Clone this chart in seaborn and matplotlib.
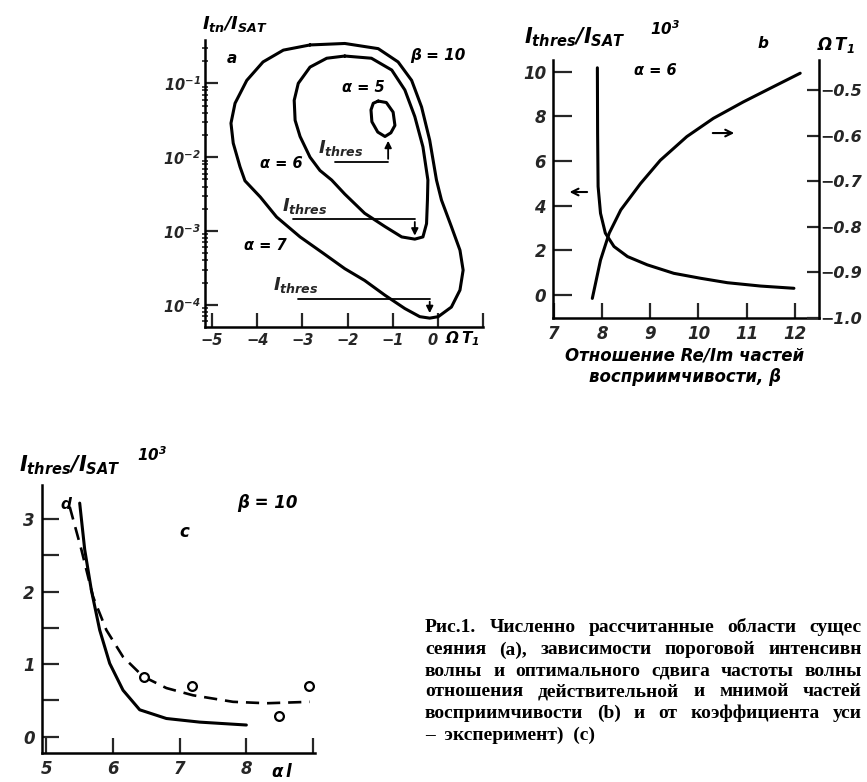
import numpy as np
import matplotlib
matplotlib.use("Agg")
import matplotlib.pyplot as plt
import seaborn as sns

# panel a: loops in (Omega*T1, log10 I/Isat)
a7_x = [-2.83, -2.06, -1.32, -0.88, -0.58, -0.36, -0.18, -0.03, 0.08, 0.30, 0.49, 0.56,
        0.49, 0.30, 0.01, -0.18, -0.40, -0.73, -1.17, -1.62, -2.06, -2.54, -3.05, -3.57,
        -3.93, -4.27, -4.38, -4.53, -4.58, -4.49, -4.23, -3.87, -3.42, -2.83]
a7_log = [-0.48, -0.46, -0.53, -0.71, -0.96, -1.32, -1.77, -2.31, -2.58, -2.94, -3.26, -3.53,
          -3.80, -4.03, -4.16, -4.18, -4.16, -4.05, -3.87, -3.67, -3.51, -3.30, -3.08, -2.81,
          -2.54, -2.32, -2.13, -1.81, -1.54, -1.27, -0.96, -0.71, -0.55, -0.48]
a6_x = [-2.06, -1.47, -1.02, -0.73, -0.51, -0.33, -0.22, -0.23, -0.25, -0.33, -0.51, -0.80,
        -1.17, -1.62, -2.06, -2.35, -2.61, -2.83, -3.05, -3.16, -3.18, -3.09, -2.83, -2.46, -2.06]
a6_log = [-0.63, -0.66, -0.82, -1.09, -1.45, -1.86, -2.31, -2.58, -2.90, -3.08, -3.11, -3.08,
          -2.94, -2.76, -2.50, -2.31, -2.18, -2.00, -1.72, -1.50, -1.23, -1.00, -0.78, -0.66, -0.63]
a5_x = [-1.32, -1.14, -0.99, -0.95, -1.04, -1.17, -1.33, -1.46, -1.48, -1.43, -1.32]
a5_log = [-1.24, -1.26, -1.39, -1.57, -1.67, -1.72, -1.66, -1.52, -1.36, -1.27, -1.24]

# threshold markers: underline level, start, end(arrow x), arrow tip (log10)
thr_level = [-2.06, -2.84, -3.92]
thr_start = [-2.28, -3.20, -3.09]
thr_end = [-1.10, -0.51, -0.18]
thr_tip = [-1.74, -3.10, -4.15]
thr_text_x = [-2.65, -3.45, -3.65]

# panel b
beta_thr = [7.905, 7.91, 7.92, 7.97, 8.07, 8.25, 8.53, 8.94, 9.49, 10.04, 10.6, 11.29, 11.98]
I_thr = [10.17, 7.25, 4.86, 3.66, 2.77, 2.17, 1.72, 1.35, 0.97, 0.75, 0.55, 0.40, 0.30]
beta_om = [7.80, 7.97, 8.15, 8.39, 8.80, 9.21, 9.76, 10.31, 10.93, 11.49, 12.11]
omega_t = [-0.957, -0.873, -0.814, -0.763, -0.705, -0.654, -0.602, -0.562, -0.526, -0.496, -0.463]

# panel c
al_calc = [5.5, 5.575, 5.675, 5.8, 5.95, 6.15, 6.4, 6.8, 7.3, 8.0]
I_calc = [3.22, 2.58, 2.02, 1.47, 1.01, 0.64, 0.37, 0.25, 0.20, 0.16]
al_dash = [5.35, 5.525, 5.7, 5.9, 6.15, 6.45, 6.8, 7.2, 7.8, 8.3, 8.95]
I_dash = [3.17, 2.58, 1.93, 1.47, 1.10, 0.83, 0.67, 0.57, 0.48, 0.46, 0.48]
al_exp = [6.47, 7.19, 8.49, 8.94]
I_exp = [0.82, 0.70, 0.29, 0.70]

# caption as it shows in the scan (cut at the right edge)
caption = [
    "Рис.1. Численно рассчитанные области сущес",
    "сеяния (a), зависимости пороговой интенсивн",
    "волны и оптимального сдвига частоты волны",
    "отношения действительной и мнимой частей",
    "восприимчивости (b) и от коэффициента уси",
    "–  эксперимент)  (c)",
]

sns.set_theme(style="ticks")
plt.rcParams["font.family"] = ["DejaVu Sans"]
plt.rcParams["mathtext.fontset"] = "custom"
plt.rcParams["mathtext.rm"] = "DejaVu Sans:italic:bold"
plt.rcParams["mathtext.it"] = "DejaVu Sans:italic:bold"
plt.rcParams["mathtext.bf"] = "DejaVu Sans:italic:bold"

W, H = 867, 782
fig = plt.figure(figsize=(W / 100, H / 100), dpi=100)
fig.patch.set_facecolor("white")


def box(l, t, r, b):
    return [l / W, 1 - b / H, (r - l) / W, (b - t) / H]


def ftext(x, y, s, **kw):
    kw.setdefault("fontstyle", "italic")
    kw.setdefault("fontweight", "bold")
    kw.setdefault("ha", "center")
    kw.setdefault("va", "center")
    fig.text(x / W, 1 - y / H, s, color="black", **kw)


def style_ticks(ax, size):
    for t in ax.get_xticklabels() + ax.get_yticklabels():
        t.set_fontstyle("italic")
        t.set_fontweight("bold")
        t.set_fontsize(size)


def spines(ax, keep):
    for side in ["left", "right", "top", "bottom"]:
        ax.spines[side].set_visible(side in keep)
        ax.spines[side].set_linewidth(1.8)
        ax.spines[side].set_color("black")
    ax.set_facecolor("none")


LW = 2.2
it = dict(fontstyle="italic", fontweight="bold", color="black")

# ---------------- panel a
ax_a = fig.add_axes(box(205, 40, 483, 327))
spines(ax_a, ["left", "bottom"])
ax_a.set_yscale("log")
for xs, ls in [(a7_x, a7_log), (a6_x, a6_log), (a5_x, a5_log)]:
    sns.lineplot(x=xs, y=10.0 ** np.array(ls), ax=ax_a, sort=False, estimator=None,
                 color="black", lw=LW)
for lev, x0, x1, tip, tx in zip(thr_level, thr_start, thr_end, thr_tip, thr_text_x):
    ax_a.plot([x0, x1], [10 ** lev, 10 ** lev], color="black", lw=1.3)
    ax_a.annotate("", xy=(x1, 10 ** tip), xytext=(x1, 10 ** lev),
                  arrowprops=dict(arrowstyle="-|>", color="black", lw=1.3, mutation_scale=10))
    ax_a.text(tx, 10 ** (lev + 0.05), r"$I_{thres}$", fontsize=13, ha="left", va="bottom")
ax_a.set_xlim(-5.155, 1.0)
ax_a.set_ylim(10 ** -4.30, 10 ** -0.413)
ax_a.set_xticks([-5, -4, -3, -2, -1, 0, 1], ["−5", "−4", "−3", "−2", "−1", "0", ""])
ax_a.set_yticks([1e-4, 1e-3, 1e-2, 1e-1], [r"$10^{-4}$", r"$10^{-3}$", r"$10^{-2}$", r"$10^{-1}$"])
ax_a.yaxis.set_minor_formatter(matplotlib.ticker.NullFormatter())
ax_a.tick_params(axis="x", direction="in", length=10, width=1.6, pad=4)
ax_a.tick_params(axis="y", which="major", direction="in", length=9, width=1.6, pad=3)
ax_a.tick_params(axis="y", which="minor", direction="inout", length=5, width=1.2)
style_ticks(ax_a, 10.5)
ax_a.get_xticklabels()[5].set_horizontalalignment("right")
ax_a.text(-1.66, 10 ** -1.05, "α = 5", fontsize=10.5, ha="center", va="center", **it)
ax_a.text(-3.47, 10 ** -2.09, "α = 6", fontsize=10.5, ha="center", va="center", **it)
ax_a.text(-3.83, 10 ** -3.19, "α = 7", fontsize=10.5, ha="center", va="center", **it)
ax_a.text(0.0, 10 ** -0.62, "β = 10", fontsize=11, ha="center", va="center", **it)
ax_a.text(-4.56, 10 ** -0.67, "a", fontsize=11, ha="center", va="center", **it)
ftext(235, 24, r"$I_{tn}/I_{SAT}$", fontsize=13)
ftext(462, 339, r"$\Omega\, T_1$", fontsize=11)

# ---------------- panel b
ax_b = fig.add_axes(box(553, 60, 819, 318))
spines(ax_b, ["left", "bottom"])
ax_b2 = ax_b.twinx()
spines(ax_b2, ["right"])
sns.lineplot(x=beta_thr, y=I_thr, ax=ax_b, sort=False, estimator=None, color="black", lw=LW)
sns.lineplot(x=beta_om, y=omega_t, ax=ax_b2, sort=False, estimator=None, color="black", lw=LW)
ax_b.set_xlim(6.985, 12.5)
ax_b.set_ylim(-1.03, 10.52)
ax_b2.set_ylim(-1.0, -0.434)
ax_b.set_xticks([7, 8, 9, 10, 11, 12], ["7", "8", "9", "10", "11", "12"])
ax_b.set_yticks([0, 2, 4, 6, 8, 10], ["0", "2", "4", "6", "8", "10"])
ax_b2.set_yticks([-1.0, -0.9, -0.8, -0.7, -0.6, -0.5],
                 ["−1.0", "−0.9", "−0.8", "−0.7", "−0.6", "−0.5"])
ax_b.tick_params(axis="x", direction="in", length=11, width=1.6, pad=5)
ax_b.tick_params(axis="y", direction="in", length=14, width=1.6, pad=5)
ax_b2.tick_params(axis="y", direction="in", length=9, width=1.6, pad=1)
style_ticks(ax_b, 12)
style_ticks(ax_b2, 11.5)
ax_b.annotate("", xy=(7.27, 4.61), xytext=(7.75, 4.61),
              arrowprops=dict(arrowstyle="->", color="black", lw=1.5, mutation_scale=12))
ax_b.annotate("", xy=(10.80, 7.25), xytext=(10.24, 7.25),
              arrowprops=dict(arrowstyle="->", color="black", lw=1.5, mutation_scale=12))
ax_b.text(9.10, 10.07, "α = 6", fontsize=10.5, ha="center", va="center", **it)
ax_b.text(11.33, 11.28, "b", fontsize=11, ha="center", va="center", clip_on=False, **it)
ftext(575, 37, r"$I_{thres}/I_{SAT}$", fontsize=15)
ftext(665, 29, r"$10^3$", fontsize=11)
ftext(836, 45, r"$\Omega\, T_1$", fontsize=12)
ftext(685, 355, "Отношение Re/Im частей", fontsize=12)
ftext(685, 377, "восприимчивости, β", fontsize=12)

# ---------------- panel c
ax_c = fig.add_axes(box(41.7, 485, 315, 753.3))
spines(ax_c, ["left", "bottom"])
sns.lineplot(x=al_calc, y=I_calc, ax=ax_c, sort=False, estimator=None, color="black", lw=LW)
sns.lineplot(x=al_dash, y=I_dash, ax=ax_c, sort=False, estimator=None, color="black",
             lw=1.9, dashes=False, linestyle=(0, (5, 3)))
sns.scatterplot(x=al_exp, y=I_exp, ax=ax_c, marker="o", s=40, facecolor="white",
                edgecolor="black", linewidth=1.6, zorder=5)
ax_c.set_xlim(4.93, 9.03)
ax_c.set_ylim(-0.23, 3.47)
ax_c.set_xticks([5, 6, 7, 8, 9], ["5", "6", "7", "8", ""])
ax_c.set_yticks([0, 1, 2, 3], ["0", "1", "2", "3"])
ax_c.set_yticks([0.5, 1.5, 2.5], minor=True)
ax_c.tick_params(axis="x", direction="in", length=11, width=1.6, pad=5)
ax_c.tick_params(axis="y", which="both", direction="in", length=12, width=1.6, pad=5)
style_ticks(ax_c, 12)
ax_c.text(5.3, 3.2, "d", fontsize=11, ha="center", va="center", **it)
ax_c.text(8.32, 3.22, "β = 10", fontsize=12, ha="center", va="center", **it)
ax_c.text(7.07, 2.82, "c", fontsize=12, ha="center", va="center", **it)
ftext(70, 465, r"$I_{thres}/I_{SAT}$", fontsize=15)
ftext(152, 455, r"$10^3$", fontsize=11)
ftext(282, 772, r"$\alpha\, l$", fontsize=12)

# ---------------- caption, justified like the printed block
cap_kw = dict(fontsize=14, family="Liberation Serif", fontweight="bold",
              ha="left", va="center", color="black")
renderer = fig.canvas.get_renderer()
x_left, x_right = 425, 862
for i, (line, y) in enumerate(zip(caption, [628, 650, 671, 692, 713, 735])):
    if i == len(caption) - 1:
        fig.text(x_left / W, 1 - y / H, line, **cap_kw)
        continue
    words = line.split()
    widths = []
    for w in words:
        t = fig.text(0, 0, w, **cap_kw)
        widths.append(t.get_window_extent(renderer).width)
        t.remove()
    gap = (x_right - x_left - sum(widths)) / (len(words) - 1)
    x = x_left
    for w, wd in zip(words, widths):
        fig.text(x / W, 1 - y / H, w, **cap_kw)
        x += wd + gap

fig.savefig("out.png", dpi=100)
